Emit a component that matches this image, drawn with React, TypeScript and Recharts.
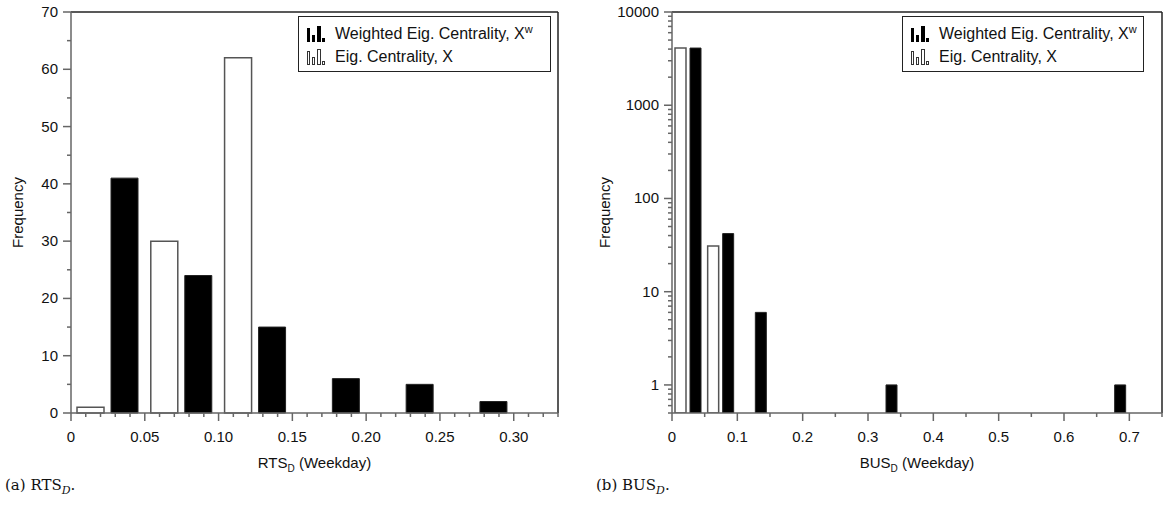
import React from "react";
import { BarChart, Bar, XAxis, YAxis, ReferenceLine, Legend } from "recharts";

// RTS_D histogram (bin centres, frequencies)
const rtsBins = [0.025, 0.075, 0.125, 0.175, 0.225, 0.275];
const rtsEig = [1, 30, 62, null, null, null];
const rtsWeighted = [41, 24, 15, 6, 5, 2];
const rtsXMajor = [0, 0.05, 0.1, 0.15, 0.2, 0.25, 0.3];
const rtsXLabels = ["0", "0.05", "0.10", "0.15", "0.20", "0.25", "0.30"];
const rtsYMajor = [0, 10, 20, 30, 40, 50, 60, 70];
const rtsYLabels = ["0", "10", "20", "30", "40", "50", "60", "70"];

// BUS_D histogram
const busBins = [
  0.025, 0.075, 0.125, 0.175, 0.225, 0.275, 0.325, 0.375, 0.425, 0.475, 0.525,
  0.575, 0.625, 0.675, 0.725,
];
const busEig = [4123, 31, null, null, null, null, null, null, null, null, null, null, null, null, null];
const busWeighted = [4104, 42, 6, null, null, null, 1, null, null, null, null, null, null, 1, null];
const busXMajor = [0, 0.1, 0.2, 0.3, 0.4, 0.5, 0.6, 0.7];
const busXLabels = ["0", "0.1", "0.2", "0.3", "0.4", "0.5", "0.6", "0.7"];
const busYMajor = [1, 10, 100, 1000, 10000];
const busYLabels = ["1", "10", "100", "1000", "10000"];

const rtsData = rtsBins.map((b, i) => ({ bin: b, eig: rtsEig[i], weighted: rtsWeighted[i] }));
const busData = busBins.map((b, i) => ({ bin: b, eig: busEig[i], weighted: busWeighted[i] }));

// tick positions incl. minor ticks
const rtsXTicks = Array.from({ length: 34 }, (_, i) => +(i * 0.01).toFixed(2));
const rtsYTicks = Array.from({ length: 15 }, (_, i) => i * 5);
const busXTicks = Array.from({ length: 16 }, (_, i) => +(i * 0.05).toFixed(2));
const busYTicks: number[] = [0.5, 0.6, 0.7, 0.8, 0.9];
[1, 10, 100, 1000].forEach((d) => {
  for (let k = 1; k <= 9; k++) busYTicks.push(d * k);
});
busYTicks.push(10000);

const AXIS = "#666";
const FONT = "Liberation Sans";

const findMajor = (majors: number[], v: number) =>
  majors.findIndex((m) => Math.abs(m - v) < 1e-6 * Math.max(1, m));

const makeXTick = (majors: number[], labels: string[]) => (props: any) => {
  const { x, y, payload } = props;
  const i = findMajor(majors, payload.value);
  const major = i >= 0;
  return (
    <g>
      <line x1={x} x2={x} y1={y} y2={y + (major ? 8 : 4)} stroke={AXIS} strokeWidth={1.5} />
      {major && (
        <text x={x} y={y + 29} textAnchor="middle" fontSize={15} fontFamily={FONT} fill="#111">
          {labels[i]}
        </text>
      )}
    </g>
  );
};

const makeYTick = (majors: number[], labels: string[]) => (props: any) => {
  const { x, y, payload } = props;
  const i = findMajor(majors, payload.value);
  const major = i >= 0;
  return (
    <g>
      <line x1={x - (major ? 8 : 4)} x2={x} y1={y} y2={y} stroke={AXIS} strokeWidth={1.5} />
      {major && (
        <text x={x - 13} y={y + 5} textAnchor="end" fontSize={15} fontFamily={FONT} fill="#111">
          {labels[i]}
        </text>
      )}
    </g>
  );
};

const FreqLabel = (dx: number) => (props: any) => {
  const { viewBox } = props;
  const cx = viewBox.x + dx;
  const cy = viewBox.y + viewBox.height / 2;
  return (
    <text
      x={cx}
      y={cy}
      transform={`rotate(-90, ${cx}, ${cy})`}
      textAnchor="middle"
      dominantBaseline="central"
      fontSize={15}
      fontFamily={FONT}
      fill="#111"
    >
      Frequency
    </text>
  );
};

const XLabel = (name: string) => (props: any) => {
  const { viewBox } = props;
  const cx = viewBox.x + viewBox.width / 2;
  return (
    <text x={cx} y={viewBox.y + 55} textAnchor="middle" fontSize={15} fontFamily={FONT} fill="#111">
      {name}
      <tspan dy={4} fontSize={10}>D</tspan>
      <tspan dy={-4}> (Weekday)</tspan>
    </text>
  );
};

const SolidIcon = () => (
  <svg width={20} height={17} style={{ marginRight: 9, flex: "none" }}>
    <rect x={1} y={3} width={3} height={14} fill="#000" />
    <rect x={6} y={10} width={3} height={7} fill="#000" />
    <rect x={11} y={1} width={4} height={16} fill="#000" />
    <rect x={16} y={13} width={3} height={4} fill="#000" />
  </svg>
);

const OpenIcon = () => (
  <svg width={20} height={17} style={{ marginRight: 9, flex: "none" }}>
    <rect x={1.5} y={3.5} width={2} height={13} fill="#fff" stroke="#333" />
    <rect x={6.5} y={9.5} width={2} height={7} fill="#fff" stroke="#333" />
    <rect x={11.5} y={1.5} width={3} height={15} fill="#fff" stroke="#333" />
    <rect x={16.5} y={13.5} width={2} height={3} fill="#fff" stroke="#333" />
  </svg>
);

const LegendBox = () => (
  <div
    style={{
      border: "1px solid #222",
      background: "#fff",
      boxSizing: "border-box",
      height: 56,
      padding: "5px 0 0 7px",
      fontFamily: FONT,
      fontSize: 16,
      color: "#111",
      lineHeight: "23px",
      whiteSpace: "nowrap",
    }}
  >
    <div style={{ display: "flex", alignItems: "center" }}>
      <SolidIcon />
      <span>
        Weighted Eig. Centrality, X<sup style={{ fontSize: 11, lineHeight: 0 }}>w</sup>
      </span>
    </div>
    <div style={{ display: "flex", alignItems: "center" }}>
      <OpenIcon />
      <span>Eig. Centrality, X</span>
    </div>
  </div>
);

const Caption = ({ left, tag, name }: { left: number; tag: string; name: string }) => (
  <div
    style={{
      position: "absolute",
      left,
      top: 476,
      fontFamily: "'DejaVu Serif', 'Liberation Serif', serif",
      fontSize: 15,
      color: "#111",
    }}
  >
    ({tag}) {name}
    <sub style={{ fontStyle: "italic", fontSize: 11 }}>D</sub>.
  </div>
);

export default function App() {
  return (
    <div
      style={{
        position: "fixed",
        left: 0,
        top: 0,
        width: 1164,
        height: 510,
        background: "#fff",
        overflow: "hidden",
      }}
    >
      <div style={{ position: "absolute", left: 0, top: 0 }}>
        <BarChart
          width={580}
          height={480}
          data={rtsData}
          margin={{ top: 12, right: 22, bottom: 0, left: 0 }}
          barGap={7}
        >
          <XAxis
            dataKey="bin"
            type="number"
            domain={[0, 0.33]}
            ticks={rtsXTicks}
            interval={0}
            allowDataOverflow
            height={67}
            tickSize={0}
            tickMargin={0}
            tickLine={false}
            axisLine={{ stroke: AXIS, strokeWidth: 1.5 }}
            tick={makeXTick(rtsXMajor, rtsXLabels)}
            label={XLabel("RTS")}
          />
          <YAxis
            type="number"
            domain={[0, 70]}
            ticks={rtsYTicks}
            interval={0}
            width={71}
            tickSize={0}
            tickMargin={0}
            tickLine={false}
            axisLine={{ stroke: AXIS, strokeWidth: 1.5 }}
            tick={makeYTick(rtsYMajor, rtsYLabels)}
            label={FreqLabel(17)}
          />
          <ReferenceLine y={70} stroke="#222" strokeWidth={1.5} />
          <ReferenceLine x={0.33} stroke="#222" strokeWidth={1.5} />
          <Bar dataKey="eig" barSize={27} fill="#fff" stroke="#555" strokeWidth={1.5} isAnimationActive={false} />
          <Bar dataKey="weighted" barSize={27} fill="#000" stroke="#222" isAnimationActive={false} />
          <Legend
            layout="horizontal"
            verticalAlign="middle"
            align="center"
            wrapperStyle={{ position: "absolute", left: 298, top: 16, width: 253, height: 56 }}
            content={() => <LegendBox />}
          />
        </BarChart>
      </div>

      <div style={{ position: "absolute", left: 590, top: 0 }}>
        <BarChart
          width={574}
          height={480}
          data={busData}
          margin={{ top: 12, right: 2, bottom: 0, left: 0 }}
          barGap={4}
        >
          <XAxis
            dataKey="bin"
            type="number"
            domain={[0, 0.75]}
            ticks={busXTicks}
            interval={0}
            allowDataOverflow
            height={67}
            tickSize={0}
            tickMargin={0}
            tickLine={false}
            axisLine={{ stroke: AXIS, strokeWidth: 1.5 }}
            tick={makeXTick(busXMajor, busXLabels)}
            label={XLabel("BUS")}
          />
          <YAxis
            type="number"
            scale="log"
            domain={[0.5, 10000]}
            allowDataOverflow
            ticks={busYTicks}
            interval={0}
            width={82}
            tickSize={0}
            tickMargin={0}
            tickLine={false}
            axisLine={{ stroke: AXIS, strokeWidth: 1.5 }}
            tick={makeYTick(busYMajor, busYLabels)}
            label={FreqLabel(14)}
          />
          <ReferenceLine y={10000} stroke="#222" strokeWidth={1.5} />
          <ReferenceLine x={0.75} stroke="#222" strokeWidth={1.5} />
          <Bar dataKey="eig" barSize={11} fill="#fff" stroke="#555" strokeWidth={1.5} isAnimationActive={false} />
          <Bar dataKey="weighted" barSize={11} fill="#000" stroke="#222" isAnimationActive={false} />
          <Legend
            layout="horizontal"
            verticalAlign="middle"
            align="center"
            wrapperStyle={{ position: "absolute", left: 312, top: 16, width: 242, height: 56 }}
            content={() => <LegendBox />}
          />
        </BarChart>
      </div>

      <Caption left={5} tag="a" name="RTS" />
      <Caption left={596} tag="b" name="BUS" />
    </div>
  );
}
